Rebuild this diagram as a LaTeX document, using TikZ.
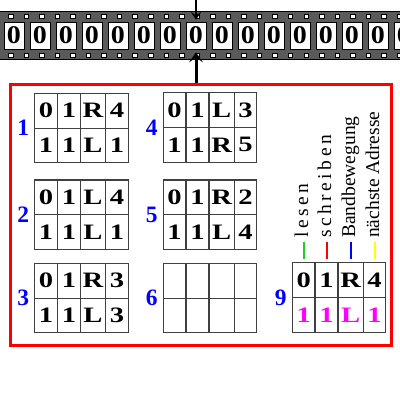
\documentclass[tikz,border=0pt]{standalone}
\usepackage{fontspec}
\setmainfont{Liberation Serif}
\newfontfamily\breit{Liberation Serif}[FakeStretch=1.3]
\newfontfamily\band{Liberation Serif}[FakeStretch=1.1]
\usetikzlibrary{positioning, arrows.meta}

\definecolor{band}{HTML}{5A5A5A}
\definecolor{rot}{HTML}{FF0000}
\definecolor{blau}{HTML}{0000FF}
\definecolor{lila}{HTML}{FF00FF}
\definecolor{gruen}{HTML}{22CC22}
\definecolor{gelb}{HTML}{FFFF00}

\tikzset{
  zelle/.style={draw=black!75, line width=1.1pt, minimum height=34.75pt, inner sep=0pt,
    font=\breit\fontsize{22}{22}\selectfont\bfseries},
  feld/.style={draw=black, line width=0.8pt, fill=white, minimum width=20pt, minimum height=27pt,
    inner sep=0pt, font=\band\fontsize{25.5}{25.5}\selectfont\bfseries},
  nr/.style={text=blau, inner sep=0pt, font=\fontsize{23.5}{23.5}\selectfont\bfseries},
  spur/.style={rotate=90, anchor=base west, inner sep=0pt, font=\fontsize{19.5}{19.5}\selectfont},
  kopf/.style={draw=black, -{Stealth[length=8pt, width=11pt, inset=4pt]}, line width=1.5pt},
}

% #1 number, #2 x, #3 y (top left), #4 first row, #5 second row, #6 colour of second row
\newcommand{\tafel}[6]{
  \node[nr] (n#1) at (#2-11.5, #3+34.75) {#1};
  \foreach \t [count=\i] in {#4} {
    \pgfmathsetmacro\cx{#2+{11.35,34.2,58.3,82.25}[\i-1]}
    \pgfmathsetmacro\w{{22.7,23,25.2,22.7}[\i-1]}
    \node[zelle, minimum width=\w pt] (t#1-1-\i) at (\cx, #3+17.375) {\t};
  }
  \foreach \t [count=\i] in {#5} {
    \pgfmathsetmacro\cx{#2+{11.35,34.2,58.3,82.25}[\i-1]}
    \pgfmathsetmacro\w{{22.7,23,25.2,22.7}[\i-1]}
    \node[zelle, minimum width=\w pt, text=#6] (t#1-2-\i) at (\cx, #3+52.125) {\t};
  }
}

\begin{document}
\begin{tikzpicture}[x=1pt, y=-1pt]
  \useasboundingbox (0,0) rectangle (400,400);

  % tape
  \fill[band] (0,11.7) rectangle (400,59);
  \draw[line width=0.6pt] (0,11.7) -- (400,11.7) (0,59) -- (400,59);
  \foreach \k in {0,...,25} {
    \draw[fill=white, line width=0.5pt] ({8.3+15.55*\k},14.3) rectangle ++(4.5,4.3);
    \draw[fill=white, line width=0.5pt] ({8.3+15.55*\k},52.8) rectangle ++(4.5,4.3);
  }
  \foreach \k in {0,...,15}
    \node[feld] (z\k) at ({14+26*\k},35.5) {0};

  % control unit
  \node[draw=rot, line width=3pt, minimum width=381pt, minimum height=261pt, inner sep=0pt]
    (werk) at (201,214.5) {};

  % head
  \coordinate (oben) at (196,0);
  \coordinate (unten) at (196,82.5);
  \draw[kopf] (oben) -- ([yshift=2pt]z7.north);
  \draw[kopf, line width=3pt, -{Stealth[length=10pt, width=14pt, inset=5pt]}]
    (unten) -- ([yshift=-3pt]z7.south);

  % states
  \tafel{1}{34.7}{93.3}{0,1,R,4}{1,1,L,1}{black}
  \tafel{2}{34.7}{180}{0,1,L,4}{1,1,L,1}{black}
  \tafel{3}{34.7}{263.3}{0,1,R,3}{1,1,L,3}{black}
  \tafel{4}{163.3}{92.7}{0,1,L,3}{1,1,R,5}{black}
  \tafel{5}{163.3}{180}{0,1,R,2}{1,1,L,4}{black}
  \tafel{6}{163.3}{263.3}{{},{},{},{}}{{},{},{},{}}{black}
  \tafel{9}{292.3}{262.7}{0,1,R,4}{1,1,L,1}{lila}

  % legend
  \node[spur] (lesen) at (308,238) {\addfontfeature{LetterSpace=18}lesen};
  \node[spur] (schreiben) at (331,238) {\addfontfeature{LetterSpace=18}schreiben};
  \node[spur] (bewegung) at (355,238) {Bandbewegung};
  \node[spur] (adresse) at (379,238) {nächste Adresse};

  \draw[gruen, line width=2pt, shorten <=2.7pt, shorten >=3.7pt] (t9-1-1.north) -- (t9-1-1.north |- lesen.west);
  \draw[rot, line width=2pt, shorten <=2.7pt, shorten >=3.7pt] (t9-1-2.north) -- (t9-1-2.north |- schreiben.west);
  \draw[blau, line width=2pt, shorten <=2.7pt, shorten >=3.7pt] (t9-1-3.north) -- (t9-1-3.north |- bewegung.west);
  \draw[gelb, line width=2pt, shorten <=2.7pt, shorten >=3.7pt] (t9-1-4.north) -- (t9-1-4.north |- adresse.west);
\end{tikzpicture}
\end{document}
